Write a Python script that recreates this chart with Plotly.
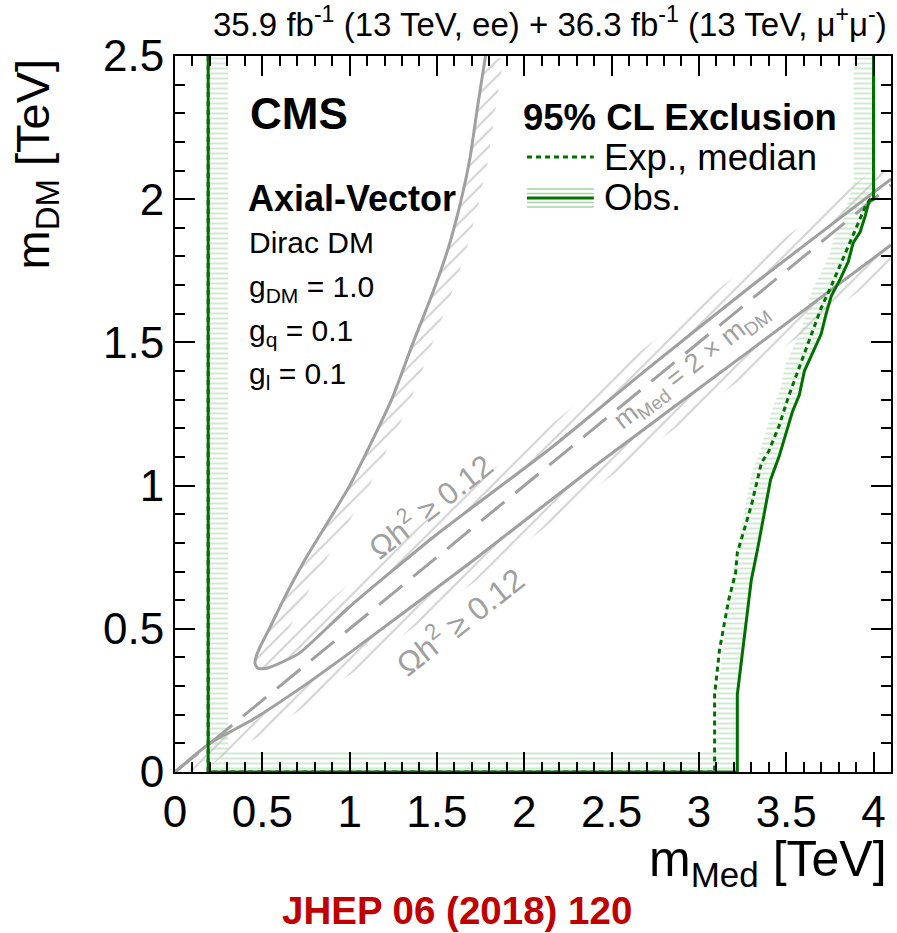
import numpy as np
import plotly.graph_objects as go

# ---------------- data (TeV) ----------------
# observed 95% CL exclusion contour (left edge, bottom edge, right edge)
obs_x = [0.19, 0.19, 3.22, 3.22, 3.30, 3.335, 3.41, 3.46, 3.535, 3.575, 3.604, 3.655, 3.70,
         3.73, 3.758, 3.809, 3.855, 3.883, 3.923, 3.952, 3.975, 4.0, 4.0]
obs_y = [2.5, 0.0, 0.0, 0.27, 0.67, 0.775, 1.02, 1.103, 1.257, 1.316, 1.40, 1.47, 1.529,
         1.603, 1.662, 1.721, 1.781, 1.847, 1.885, 1.941, 1.994, 2.0, 2.5]
# expected (median) contour
exp_x = [0.19, 0.19, 3.09, 3.09, 3.118, 3.17, 3.21, 3.22, 3.30, 3.358, 3.40, 3.46, 3.512,
         3.58, 3.64, 3.70, 3.76, 3.81, 3.86, 3.91, 3.95, 3.98, 4.0, 4.0]
exp_y = [2.5, 0.0, 0.0, 0.27, 0.426, 0.60, 0.695, 0.765, 0.93, 1.079, 1.12, 1.21, 1.309,
         1.42, 1.52, 1.62, 1.70, 1.77, 1.84, 1.91, 1.97, 2.0, 2.0, 2.5]
# relic density contour, upper (from top of upper arm, round the nose, along lower arm)
relic_up_x = [1.778, 1.733, 1.688, 1.63, 1.5625, 1.477, 1.364, 1.24, 1.0, 0.743, 0.62,
              0.54, 0.49, 0.463, 0.458, 0.475, 0.525, 0.617, 0.714, 1.0, 1.5, 2.142,
              2.7, 3.284, 4.1]
relic_up_y = [2.5, 2.325, 2.14, 1.976, 1.825, 1.675, 1.5, 1.30, 1.0, 0.74, 0.60,
              0.50, 0.44, 0.40, 0.378, 0.362, 0.362, 0.385, 0.416, 0.577, 0.83, 1.126,
              1.405, 1.689, 2.07]
# relic density contour, lower
relic_lo_x = [0.0, 0.2, 0.45, 0.7, 1.0, 1.713, 2.427, 3.267, 4.1]
relic_lo_y = [0.0, 0.1, 0.185, 0.285, 0.416, 0.741, 1.079, 1.46, 1.84]
# m_Med = 2 x m_DM line
diag_x = [0.0, 4.1]
diag_y = [0.0, 2.05]

X_RANGE = [0, 4.1]
Y_RANGE = [0, 2.5]

# ---------------- layout geometry ----------------
W, H = 897, 933
ML, MR, MT, MB = 175, 4, 56, 161
SX = (W - ML - MR) / (X_RANGE[1] - X_RANGE[0])
SY = (H - MT - MB) / (Y_RANGE[1] - Y_RANGE[0])

FONT = "Liberation Sans, Arial, Helvetica, sans-serif"
GREEN = "#007000"
LGREEN = "#a6d2a6"
GREY = "#a0a0a0"
HGREY = "#a8a8a8"


def band(xs, ys, w_px):
    """Polygon of a strip of width w_px (pixels) on the left side of a polyline."""
    X = np.asarray(xs, float) * SX
    Y = np.asarray(ys, float) * SY
    dx, dy = np.diff(X), np.diff(Y)
    L = np.hypot(dx, dy)
    nx, ny = -dy / L, dx / L
    ox, oy = np.zeros_like(X), np.zeros_like(Y)
    for i in range(len(X)):
        if i == 0:
            mx, my, c = nx[0], ny[0], 1.0
        elif i == len(X) - 1:
            mx, my, c = nx[-1], ny[-1], 1.0
        else:
            mx, my = nx[i - 1] + nx[i], ny[i - 1] + ny[i]
            m = np.hypot(mx, my)
            mx, my = mx / m, my / m
            c = max(mx * nx[i] + my * ny[i], 0.35)
        ox[i] = X[i] + mx * w_px / c
        oy[i] = Y[i] + my * w_px / c
    px = np.concatenate([X, ox[::-1], X[:1]]) / SX
    py = np.concatenate([Y, oy[::-1], Y[:1]]) / SY
    return px, py


fig = go.Figure()

# grey hatched bands (relic density)
for xs, ys, w in [(relic_up_x, relic_up_y, 18), (relic_lo_x, relic_lo_y, -18)]:
    bx, by = band(xs, ys, w)
    fig.add_trace(go.Scatter(x=bx, y=by, mode="lines", fill="toself",
                             line=dict(width=0, color="rgba(0,0,0,0)"),
                             fillcolor="rgba(0,0,0,0)",
                             fillpattern=dict(shape="/", size=11, solidity=0.2,
                                              fgcolor=HGREY, bgcolor="rgba(0,0,0,0)"),
                             hoverinfo="skip", showlegend=False))

# green hatched band (observed exclusion)
bx, by = band(obs_x, obs_y, 20)
fig.add_trace(go.Scatter(x=bx, y=by, mode="lines", fill="toself",
                         line=dict(width=0, color="rgba(0,0,0,0)"),
                         fillcolor="rgba(0,0,0,0)",
                         fillpattern=dict(shape="-", size=5, solidity=0.4,
                                          fgcolor=LGREEN, bgcolor="rgba(0,0,0,0)"),
                         hoverinfo="skip", showlegend=False))

# grey lines
fig.add_trace(go.Scatter(x=relic_up_x, y=relic_up_y, mode="lines",
                         line=dict(color=GREY, width=3, shape="spline", smoothing=0.6),
                         showlegend=False, hoverinfo="skip"))
fig.add_trace(go.Scatter(x=relic_lo_x, y=relic_lo_y, mode="lines",
                         line=dict(color=GREY, width=3, shape="spline", smoothing=0.6),
                         showlegend=False, hoverinfo="skip"))
fig.add_trace(go.Scatter(x=diag_x, y=diag_y, mode="lines",
                         line=dict(color=GREY, width=3, dash="30px,14px"),
                         showlegend=False, hoverinfo="skip"))

# green lines
fig.add_trace(go.Scatter(x=exp_x, y=exp_y, mode="lines",
                         line=dict(color=GREEN, width=3, dash="5px,4px"),
                         showlegend=False, hoverinfo="skip"))
fig.add_trace(go.Scatter(x=obs_x, y=obs_y, mode="lines",
                         line=dict(color=GREEN, width=3),
                         showlegend=False, hoverinfo="skip"))

# ---------------- legend (drawn by hand) ----------------
def dx_(px):
    return (px - ML) / SX


def dy_(py):
    return (H - MB - py) / SY


shapes = []
shapes.append(dict(type="line", xref="x", yref="y", x0=dx_(528), x1=dx_(595),
                   y0=dy_(157), y1=dy_(157), line=dict(color=GREEN, width=3, dash="5px,4px")))
for off in (-9, -4.5, 4.5, 9):
    shapes.append(dict(type="line", xref="x", yref="y", x0=dx_(528), x1=dx_(595),
                       y0=dy_(198 + off), y1=dy_(198 + off), line=dict(color=LGREEN, width=1.5)))
shapes.append(dict(type="line", xref="x", yref="y", x0=dx_(528), x1=dx_(595),
                   y0=dy_(198), y1=dy_(198), line=dict(color=GREEN, width=3)))

ann = []


def A(text, x, y, size, color="black", xanchor="left", yanchor="middle", angle=0,
      xref="x", yref="y"):
    ann.append(dict(text=text, x=x, y=y, xref=xref, yref=yref, showarrow=False,
                    xanchor=xanchor, yanchor=yanchor, textangle=angle,
                    font=dict(family=FONT, size=size, color=color)))


A("<b>CMS</b>", dx_(248), dy_(113), 44)
A("<b>Axial-Vector</b>", dx_(246), dy_(198), 36)
A("Dirac DM", dx_(247), dy_(242), 30)
A("g<sub>DM</sub> = 1.0", dx_(247), dy_(288), 30)
A("g<sub>q</sub> = 0.1", dx_(247), dy_(332), 30)
A("g<sub>l</sub> = 0.1", dx_(247), dy_(375), 30)
A("<b>95% CL Exclusion</b>", dx_(522), dy_(117), 36.5)
A("Exp., median", dx_(603), dy_(157), 36.5)
A("Obs.", dx_(603), dy_(197), 36.5)

A("\u03a9h<sup>2</sup> \u2265 0.12", 1.457, 0.932, 31, GREY, "center", "middle", -38)
A("\u03a9h<sup>2</sup> \u2265 0.12", 1.628, 0.531, 32, GREY, "center", "middle", -38)
A("m<sub>Med</sub> = 2 \u00d7 m<sub>DM</sub>", 2.96, 1.415, 27, GREY, "center", "middle", -38)

# outside texts (paper coordinates)
pw, ph = W - ML - MR, H - MT - MB
A("35.9 fb<sup>-1</sup> (13 TeV, ee) + 36.3 fb<sup>-1</sup> (13 TeV, \u03bc<sup>+</sup>\u03bc<sup>-</sup>)",
  (891 - ML) / pw, (H - MB - 45) / ph, 33, "black", "right", "bottom", 0, "paper", "paper")
A("m<sub>Med</sub> [TeV]", (891 - ML) / pw, (H - MB - 862) / ph, 50, "black", "right", "middle", 0,
  "paper", "paper")
A("m<sub>DM</sub> [TeV]", (36 - ML) / pw, (H - MB - 57) / ph, 47, "black", "center", "top", -90,
  "paper", "paper")
A("<b>JHEP 06 (2018) 120</b>", (458 - ML) / pw, (H - MB - 910) / ph, 38.5, "#c00000", "center",
  "middle", 0, "paper", "paper")

axis_common = dict(showgrid=False, zeroline=False, showline=True, linecolor="black",
                   linewidth=2, mirror="allticks", ticks="inside", ticklen=20, tickwidth=1.5,
                   tickcolor="black", tickfont=dict(family=FONT, size=44, color="black"),
                   minor=dict(ticks="inside", ticklen=10, tickwidth=1.5, tickcolor="black",
                              dtick=0.1, showgrid=False))

fig.update_layout(
    width=W, height=H, margin=dict(l=ML, r=MR, t=MT, b=MB),
    paper_bgcolor="white", plot_bgcolor="white",
    xaxis=dict(range=X_RANGE, dtick=0.5, tick0=0, **axis_common),
    yaxis=dict(range=Y_RANGE, dtick=0.5, tick0=0, **axis_common),
    shapes=shapes, annotations=ann, showlegend=False,
    font=dict(family=FONT),
)

fig.write_html("out.html")
